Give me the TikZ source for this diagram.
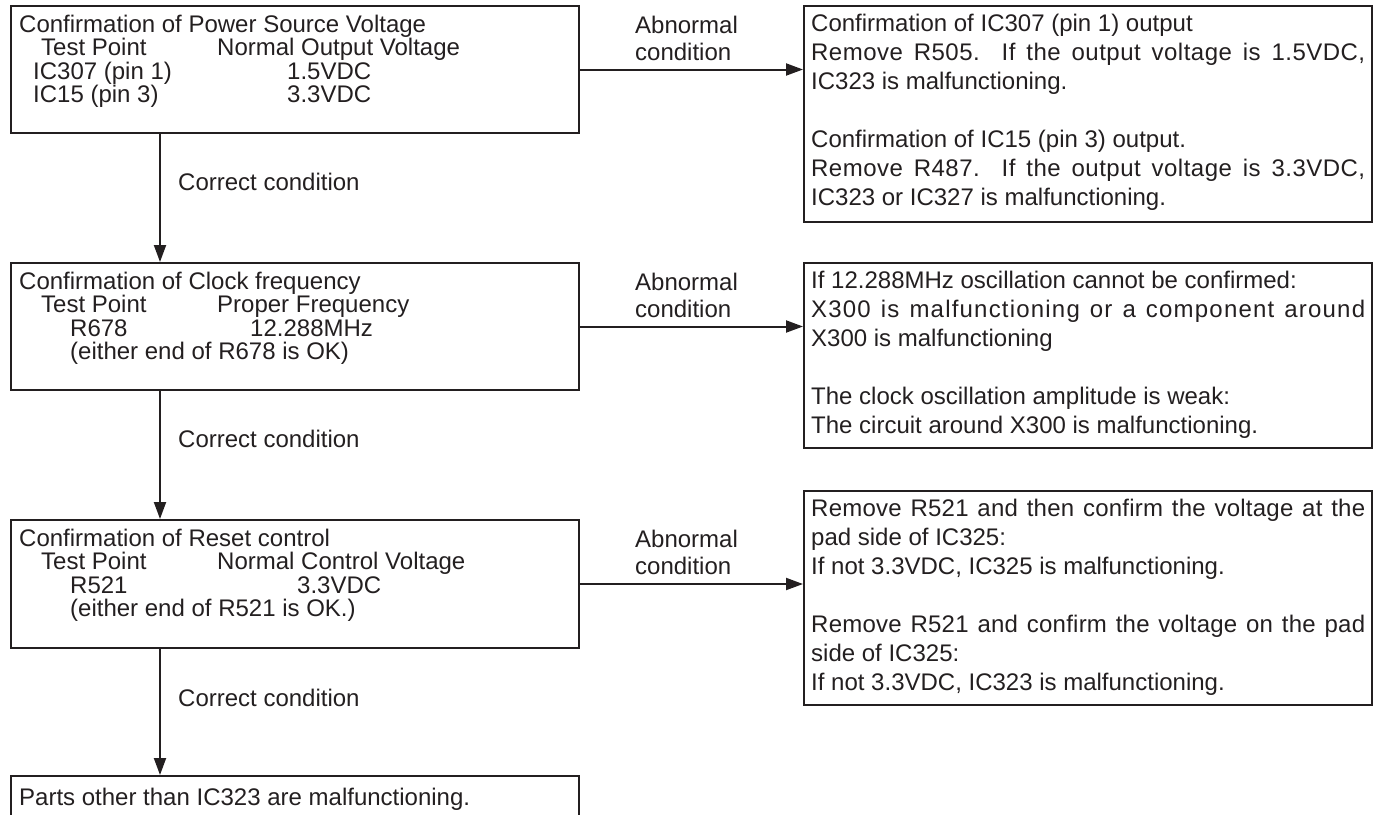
\documentclass[tikz,border=0pt]{standalone}
\usepackage{fontspec}
\setmainfont{Liberation Sans}
\usetikzlibrary{arrows.meta}
\definecolor{ink}{HTML}{231F20}
\newcommand\justline[2]{\makebox[554pt][s]{\addfontfeature{LetterSpace=#1}#2}}
\begin{document}
\begin{tikzpicture}[x=1pt,y=-1pt,
  box/.style={draw=ink, line width=2pt, inner sep=0pt, anchor=north west, minimum width=568pt},
  txt/.style={anchor=base west, inner sep=0pt, text=ink, font=\fontsize{24}{24}\selectfont},
  conn/.style={draw=ink, line width=2pt, -{Triangle[length=17pt,width=12pt]}},
]
\useasboundingbox (0,0) rectangle (1381,814);
% left boxes
\node[box, minimum height=127pt] (b1) at (10,5) {};
\node[box, minimum height=127pt] (b2) at (10,262) {};
\node[box, minimum height=128pt] (b3) at (10,519) {};
\node[box, minimum height=70pt] (b4) at (10,775) {};
% right boxes
\node[box, minimum height=216pt] (r1) at (803,5) {};
\node[box, minimum height=185pt] (r2) at (803,262) {};
\node[box, minimum height=214pt] (r3) at (803,490) {};
% box 1 text
\node[txt] (b1t1) at (19,32) {Confirmation of Power Source Voltage};
\node[txt] (b1t2) at (41,55.5) {Test Point};
\node[txt] (b1t3) at (217,55.5) {Normal Output Voltage};
\node[txt] (b1t4) at (33,79) {IC307 (pin 1)};
\node[txt] (b1t5) at (287,79) {1.5VDC};
\node[txt] (b1t6) at (33,102.5) {IC15 (pin 3)};
\node[txt] (b1t7) at (287,102.5) {3.3VDC};
% box 2 text
\node[txt] (b2t1) at (19,289) {Confirmation of Clock frequency};
\node[txt] (b2t2) at (41,312.5) {Test Point};
\node[txt] (b2t3) at (217,312.5) {Proper Frequency};
\node[txt] (b2t4) at (70,336) {R678};
\node[txt] (b2t5) at (250,336) {12.288MHz};
\node[txt] (b2t6) at (70,359.5) {(either end of R678 is OK)};
% box 3 text
\node[txt] (b3t1) at (19,546) {Confirmation of Reset control};
\node[txt] (b3t2) at (41,569.5) {Test Point};
\node[txt] (b3t3) at (217,569.5) {Normal Control Voltage};
\node[txt] (b3t4) at (70,593) {R521};
\node[txt] (b3t5) at (297,593) {3.3VDC};
\node[txt] (b3t6) at (70,616.5) {(either end of R521 is OK.)};
% box 4 text
\node[txt] (b4t1) at (19,805) {Parts other than IC323 are malfunctioning.};
% right box 1 text
\node[txt] (r1t1) at (811,31) {Confirmation of IC307 (pin 1) output};
\node[txt] (r1t2) at (811,60) {\justline{2}{Remove R505.\ \ If the output voltage is 1.5VDC,}};
\node[txt] (r1t3) at (811,89) {IC323 is malfunctioning.};
\node[txt] (r1t4) at (811,147) {Confirmation of IC15 (pin 3) output.};
\node[txt] (r1t5) at (811,176) {\justline{2}{Remove R487.\ \ If the output voltage is 3.3VDC,}};
\node[txt] (r1t6) at (811,205) {IC323 or IC327 is malfunctioning.};
% right box 2 text
\node[txt] (r2t1) at (811,288) {If 12.288MHz oscillation cannot be confirmed:};
\node[txt] (r2t2) at (811,317) {\justline{5}{X300 is malfunctioning or a component around}};
\node[txt] (r2t3) at (811,346) {X300 is malfunctioning};
\node[txt] (r2t4) at (811,404) {The clock oscillation amplitude is weak:};
\node[txt] (r2t5) at (811,433) {The circuit around X300 is malfunctioning.};
% right box 3 text
\node[txt] (r3t1) at (811,516) {\justline{1}{Remove R521 and then confirm the voltage at the}};
\node[txt] (r3t2) at (811,545) {pad side of IC325:};
\node[txt] (r3t3) at (811,574) {If not 3.3VDC, IC325 is malfunctioning.};
\node[txt] (r3t4) at (811,632) {\justline{1}{Remove R521 and confirm the voltage on the pad}};
\node[txt] (r3t5) at (811,661) {side of IC325:};
\node[txt] (r3t6) at (811,690) {If not 3.3VDC, IC323 is malfunctioning.};
% abnormal labels
\node[txt] (a1a) at (635,33) {Abnormal};
\node[txt] (a1b) at (635,60) {condition};
\node[txt] (a2a) at (635,290) {Abnormal};
\node[txt] (a2b) at (635,317) {condition};
\node[txt] (a3a) at (635,547) {Abnormal};
\node[txt] (a3b) at (635,574) {condition};
% correct labels
\node[txt] (c1) at (178,190) {Correct condition};
\node[txt] (c2) at (178,447) {Correct condition};
\node[txt] (c3) at (178,706) {Correct condition};
% connectors
\coordinate (v) at (160,0);
\draw[conn] (b1.south -| v) -- (b2.north -| v);
\draw[conn] (b2.south -| v) -- (b3.north -| v);
\draw[conn] (b3.south -| v) -- (b4.north -| v);
\draw[conn] (b1.east) -- (b1.east -| r1.west);
\draw[conn] (b2.east) -- (b2.east -| r2.west);
\draw[conn] (b3.east) -- (b3.east -| r3.west);
\end{tikzpicture}
\end{document}
